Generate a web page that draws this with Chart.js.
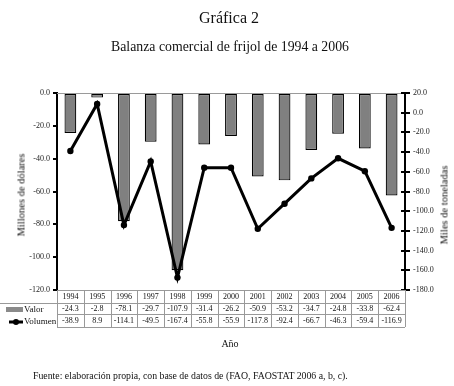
<!DOCTYPE html>
<html><head><meta charset="utf-8">
<script src="https://cdn.jsdelivr.net/npm/chart.js@4/dist/chart.umd.min.js"></script>
<style>
html,body{margin:0;padding:0;background:#fff;}
#wrap{position:relative;width:454px;height:386px;overflow:hidden;font-family:'Liberation Serif',serif;color:#111;}
canvas{position:absolute;left:0;top:0;}
.t{position:absolute;white-space:nowrap;transform:translate(-50%,-50%);}
.r{position:absolute;white-space:nowrap;transform:translate(-50%,-50%) rotate(-90deg);}
</style></head><body>
<div id="wrap">
<canvas id="c" width="454" height="386"></canvas>
<div class="t" style="left:229px;top:18px;font-size:16px;">Gráfica 2</div>
<div class="t" style="left:230px;top:47px;font-size:13.8px;">Balanza comercial de frijol de 1994 a 2006</div>
<div class="r" style="left:21px;top:195px;font-size:10.5px;">Millones de dólares</div>
<div class="r" style="left:444px;top:205px;font-size:10.5px;">Miles de toneladas</div>
<div class="t" style="left:230px;top:343px;font-size:10px;">Año</div>
<div style="position:absolute;left:33px;top:370px;font-size:9.8px;white-space:nowrap;">Fuente: elaboración propia, con base de datos de (FAO, FAOSTAT 2006 a, b, c).</div>
</div>
<script>
const years = ['1994','1995','1996','1997','1998','1999','2000','2001','2002','2003','2004','2005','2006'];
const valor = [-24.3,-2.8,-78.1,-29.7,-107.9,-31.4,-26.2,-50.9,-53.2,-34.7,-24.8,-33.8,-62.4];
const volumen = [-38.9,8.9,-114.1,-49.5,-167.4,-55.8,-55.9,-117.8,-92.4,-66.7,-46.3,-59.4,-116.9];
const leftTicks = {min:-120,max:0,step:20};
const rightTicks = {min:-180,max:20,step:20};

const tablePlugin = {
  id:'tablePlugin',
  afterDraw(chart){
    const ctx = chart.ctx, x = chart.scales.x, y2 = chart.scales.y2, ca = chart.chartArea;
    const top = ca.bottom, r1 = 303, r2 = 314, bot = 327;
    const cw = (ca.right - ca.left)/years.length;
    ctx.save();
    // top grey zero line
    ctx.strokeStyle = '#9a9a9a'; ctx.lineWidth = 1;
    ctx.beginPath(); ctx.moveTo(ca.left, ca.top+0.5); ctx.lineTo(ca.right, ca.top+0.5); ctx.stroke();
    // right axis ticks crossing inward
    ctx.strokeStyle = '#000'; ctx.lineWidth = 2;
    ctx.beginPath();
    y2.ticks.forEach(t=>{ const yy = Math.round(y2.getPixelForValue(t.value)); ctx.moveTo(ca.right-4, yy); ctx.lineTo(ca.right, yy); });
    ctx.stroke();
    // table lines
    ctx.strokeStyle = '#999'; ctx.lineWidth = 1;
    ctx.beginPath();
    ctx.moveTo(ca.left, top+0.5); ctx.lineTo(ca.right, top+0.5);
    ctx.moveTo(0, r1+0.5); ctx.lineTo(ca.right, r1+0.5);
    ctx.moveTo(ca.left, r2+0.5); ctx.lineTo(ca.right, r2+0.5);
    ctx.moveTo(ca.left, bot+0.5); ctx.lineTo(ca.right, bot+0.5);
    for(let i=0;i<=years.length;i++){
      const xx = Math.round(ca.left + i*cw)+0.5;
      ctx.moveTo(xx, top); ctx.lineTo(xx, bot);
    }
    ctx.stroke();
    ctx.fillStyle = '#111';
    ctx.font = "8px 'Liberation Serif'";
    ctx.textAlign = 'center'; ctx.textBaseline = 'middle';
    years.forEach((y,i)=>{
      const cx = x.getPixelForValue(i);
      ctx.fillText(y, cx, 297);
      ctx.fillText(valor[i].toFixed(1), cx, 308.5);
      ctx.fillText(volumen[i].toFixed(1), cx, 321);
    });
    // legend
    ctx.fillStyle = '#8a8a8a';
    ctx.fillRect(6, 307, 17, 5);
    ctx.fillStyle = '#111';
    ctx.textAlign = 'left';
    ctx.font = "9px 'Liberation Serif'";
    ctx.fillText('Valor', 24, 310);
    ctx.fillText('Volumen', 24, 322);
    ctx.strokeStyle = '#000'; ctx.lineWidth = 3;
    ctx.beginPath(); ctx.moveTo(9, 322); ctx.lineTo(23, 322); ctx.stroke();
    ctx.beginPath(); ctx.arc(16, 322, 3, 0, Math.PI*2); ctx.fillStyle='#000'; ctx.fill();
    ctx.restore();
  }
};

new Chart(document.getElementById('c'), {
  data:{
    labels: years,
    datasets:[
      {type:'line', label:'Volumen', data:volumen, yAxisID:'y2', borderColor:'#000', backgroundColor:'#000',
       borderWidth:3, pointRadius:3.2, pointBackgroundColor:'#000', pointBorderWidth:0, tension:0, order:0},
      {type:'bar', label:'Valor', data:valor, yAxisID:'y', backgroundColor:'#808080', borderColor:'#000',
       borderWidth:1.2, borderSkipped:false, barPercentage:0.44, categoryPercentage:1, order:1}
    ]
  },
  options:{
    responsive:false, animation:false,
    layout:{padding:{top:93,bottom:96,left:0,right:0}},
    plugins:{legend:{display:false},tooltip:{enabled:false},title:{display:false}},
    scales:{
      x:{display:false, offset:true},
      y:{position:'left', min:leftTicks.min, max:leftTicks.max,
         afterFit(s){s.width=57;},
         ticks:{stepSize:leftTicks.step, color:'#222', padding:3, font:{family:'Liberation Serif',size:8},
                callback:v=>Number(v).toFixed(1)},
         grid:{drawOnChartArea:false, drawTicks:true, tickLength:4, color:'#000', lineWidth:2},
         border:{display:true, color:'#000', width:2}},
      y2:{position:'right', min:rightTicks.min, max:rightTicks.max,
         afterFit(s){s.width=49;},
         ticks:{stepSize:rightTicks.step, color:'#222', padding:3, font:{family:'Liberation Serif',size:8},
                callback:v=>Number(v).toFixed(1)},
         grid:{drawOnChartArea:false, drawTicks:true, tickLength:5, color:'#000', lineWidth:2},
         border:{display:true, color:'#000', width:2}}
    }
  },
  plugins:[tablePlugin]
});
</script>
</body></html>
